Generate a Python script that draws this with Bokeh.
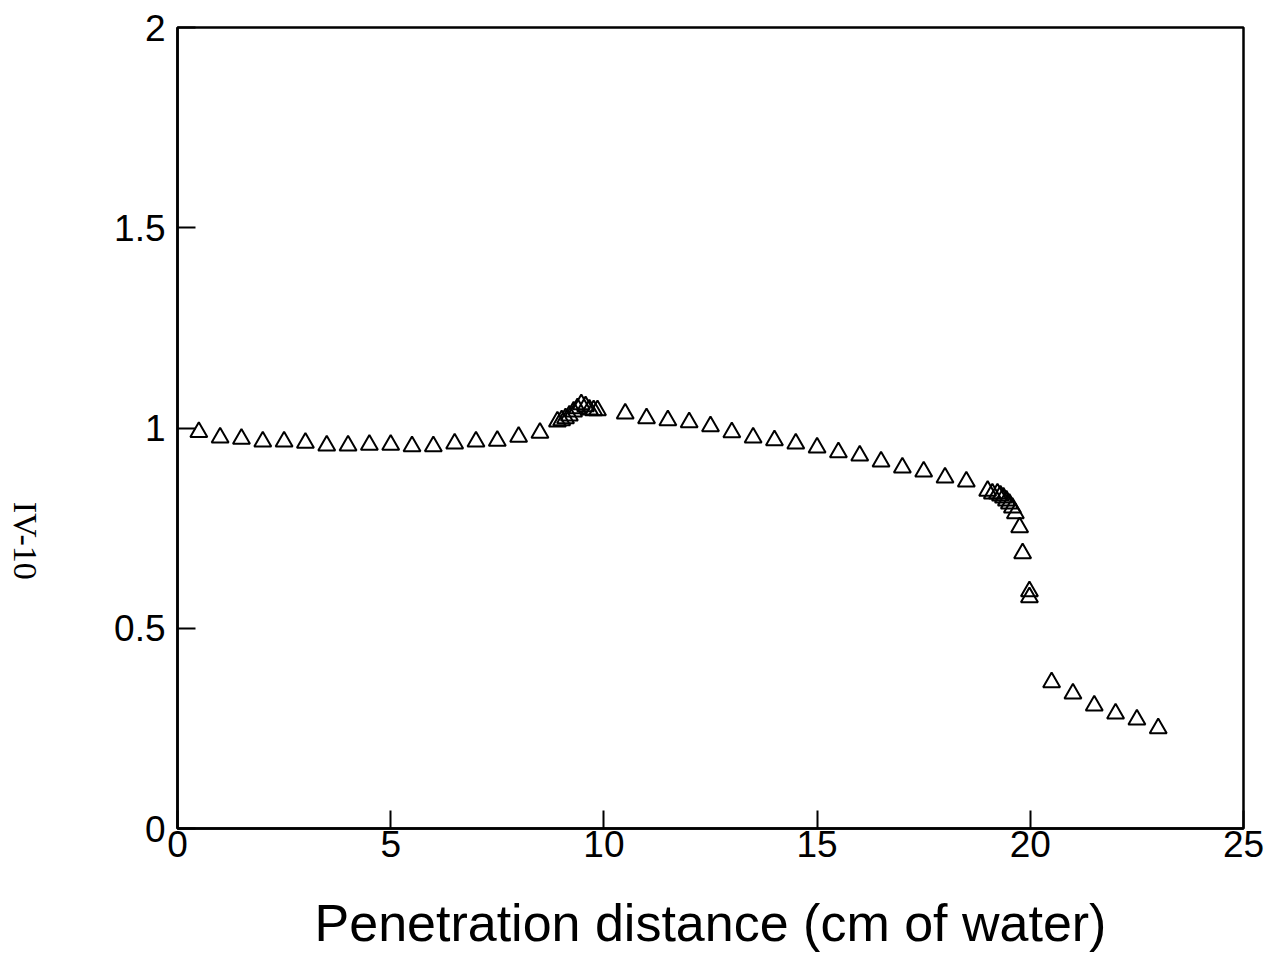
import math
from bokeh.plotting import figure
from bokeh.models import ColumnDataSource, FixedTicker, Range1d
from bokeh.layouts import row
from bokeh.core.properties import value
from bokeh.embed import file_html
from bokeh.resources import INLINE

# Penetration distance (cm of water)
distance = [0.5, 1.0, 1.5, 2.0, 2.5, 3.0, 3.5, 4.0, 4.5, 5.0, 5.5, 6.0, 6.5, 7.0, 7.5, 8.0, 8.5,
            8.91, 9.01, 9.10, 9.19, 9.29, 9.38, 9.47, 9.57, 9.66, 9.76, 9.85,
            10.5, 11.0, 11.5, 12.0, 12.5, 13.0, 13.5, 14.0, 14.5, 15.0, 15.5, 16.0, 16.5,
            17.0, 17.5, 18.0, 18.5, 19.0,
            19.11, 19.23, 19.30, 19.37, 19.44, 19.51, 19.58, 19.65, 19.75, 19.82, 19.98, 19.98,
            20.5, 21.0, 21.5, 22.0, 22.5, 23.0]
# Relative dose
dose = [0.990, 0.976, 0.973, 0.966, 0.966, 0.963, 0.956, 0.956, 0.958, 0.958, 0.954, 0.954,
        0.961, 0.966, 0.968, 0.978, 0.988,
        1.016, 1.019, 1.024, 1.031, 1.041, 1.049, 1.059, 1.054, 1.046, 1.044, 1.044,
        1.036, 1.024, 1.019, 1.014, 1.004, 0.989, 0.976, 0.969, 0.961, 0.951, 0.939, 0.931,
        0.916, 0.901, 0.891, 0.876, 0.866, 0.843,
        0.836, 0.836, 0.831, 0.826, 0.819, 0.811, 0.801, 0.787, 0.752, 0.687, 0.592, 0.577,
        0.365, 0.337, 0.307, 0.287, 0.272, 0.250]

x_ticks = [0, 5, 10, 15, 20, 25]
y_ticks = [0, 0.5, 1, 1.5, 2]
y_tick_labels = {0: "0", 0.5: "0.5", 1: "1", 1.5: "1.5", 2: "2"}
x_label = "Penetration distance (cm of water)"
page_mark = ["IV-10"]

FONT = "Liberation Sans"

# narrow strip on the left carrying the rotated page mark
side = figure(width=50, height=955, output_backend="svg", toolbar_location=None,
              x_range=Range1d(0, 50), y_range=Range1d(0, 955),
              x_axis_type=None, y_axis_type=None,
              min_border_left=0, min_border_right=0, min_border_top=0, min_border_bottom=0)
side.outline_line_color = None
side.xgrid.visible = False
side.ygrid.visible = False
side.border_fill_color = "white"
side.text(x=[25], y=[343], text=page_mark, angle=-math.pi / 2,
          text_font=value("Liberation Serif"), text_font_size="34px",
          text_color="black", text_align="center", text_baseline="middle")

p = figure(width=1219, height=955, output_backend="svg", toolbar_location=None,
           x_range=Range1d(0, 25), y_range=Range1d(0, 2),
           min_border_left=127, min_border_right=26, min_border_top=27, min_border_bottom=127)
p.background_fill_color = "white"
p.border_fill_color = "white"
p.outline_line_color = "black"
p.outline_line_width = 2.5
p.xgrid.visible = False
p.ygrid.visible = False

src = ColumnDataSource(dict(x=distance, y=dose))
p.scatter("x", "y", source=src, marker="triangle", size=17, fill_color=None,
          line_color="black", line_width=2)

for ax in (p.xaxis[0], p.yaxis[0]):
    ax.axis_line_color = "black"
    ax.axis_line_width = 2.5
    ax.major_tick_in = 18
    ax.major_tick_out = 0
    ax.major_tick_line_color = "black"
    ax.major_tick_line_width = 2
    ax.minor_tick_line_color = None
    ax.major_label_text_font = FONT
    ax.major_label_text_font_size = "37px"
    ax.major_label_text_color = "black"

p.xaxis[0].ticker = FixedTicker(ticks=x_ticks)
p.yaxis[0].ticker = FixedTicker(ticks=y_ticks)
p.yaxis[0].major_label_overrides = y_tick_labels
p.xaxis[0].major_label_standoff = 2
p.yaxis[0].major_label_standoff = 12

p.xaxis[0].axis_label = x_label
p.xaxis[0].axis_label_text_font = FONT
p.xaxis[0].axis_label_text_font_size = "52px"
p.xaxis[0].axis_label_text_font_style = "normal"
p.xaxis[0].axis_label_text_color = "black"
p.xaxis[0].axis_label_standoff = 34

open("out.html", "w").write(file_html(row(side, p), INLINE))
